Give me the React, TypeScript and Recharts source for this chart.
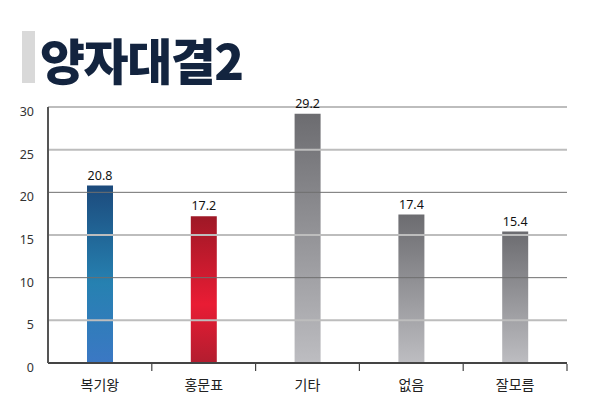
import { BarChart, Bar, XAxis, YAxis, Cell, LabelList, ReferenceLine } from "recharts";

const candidates = ["복기왕", "홍문표", "기타", "없음", "잘모름"];
const shares = [20.8, 17.2, 29.2, 17.4, 15.4];
const yTicks = [0, 5, 10, 15, 20, 25, 30];
const gridValues = [5, 10, 15, 20, 25, 30];
const title = "양자대결2";

const rows = candidates.map((name, i) => ({ name, value: shares[i] }));

// blue for the first candidate, red for the second, gray for the rest
const fillFor = (i: number) => (i === 0 ? "url(#gBlue)" : i === 1 ? "url(#gRed)" : "url(#gGray)");

function CategoryTick(props: any) {
  const { x, y, payload } = props;
  const half = payload.offset ?? 0;
  return (
    <g>
      <line x1={x + half} x2={x + half} y1={y - 7} y2={y} stroke="#444" strokeWidth={1.2} />
      <text x={x} y={y + 19} textAnchor="middle" fontSize={14} fill="#222" fontFamily="'Noto Sans CJK KR', sans-serif">
        {payload.value}
      </text>
    </g>
  );
}

function ValueTick(props: any) {
  const { x, y, payload } = props;
  return (
    <text x={x - 6} y={y + 9} textAnchor="end" fontSize={12.5} fill="#333" fontFamily="'Noto Sans', sans-serif">
      {payload.value}
    </text>
  );
}

export default function App() {
  return (
    <div style={{ position: "absolute", left: 0, top: 0, width: 595, height: 399, background: "#fff" }}>
      <div style={{ position: "absolute", left: 22, top: 31, width: 13, height: 52, background: "#d9d9d9" }} />
      <div
        style={{
          position: "absolute",
          left: 40,
          top: 23,
          fontFamily: "'Noto Sans CJK KR', sans-serif",
          fontWeight: 900,
          fontSize: 49,
          letterSpacing: -1.5,
          color: "#13243f",
          lineHeight: "72px",
        }}
      >
        {title}
      </div>
      <div style={{ position: "absolute", left: 0, top: 0 }}>
        <BarChart width={595} height={399} data={rows} margin={{ top: 107, right: 28, bottom: 6, left: 8 }} barCategoryGap={0}>
          <defs>
            <linearGradient id="gBlue" x1="0" y1="0" x2="0" y2="1">
              <stop offset="0%" stopColor="#1c4a7c" />
              <stop offset="55%" stopColor="#2681b1" />
              <stop offset="100%" stopColor="#3b78c4" />
            </linearGradient>
            <linearGradient id="gRed" x1="0" y1="0" x2="0" y2="1">
              <stop offset="0%" stopColor="#9e1826" />
              <stop offset="60%" stopColor="#e91c34" />
              <stop offset="100%" stopColor="#b21d2f" />
            </linearGradient>
            <linearGradient id="gGray" x1="0" y1="0" x2="0" y2="1">
              <stop offset="0%" stopColor="#6c6c70" />
              <stop offset="100%" stopColor="#bdbdc1" />
            </linearGradient>
          </defs>
          {gridValues.map((v) => (
            <ReferenceLine
              key={v}
              y={v}
              stroke={v % 10 === 5 || v === 30 ? "#bdbdbd" : "#6f6f6f"}
              strokeWidth={v % 10 === 5 || v === 30 ? 2 : 1}
            />
          ))}
          <XAxis
            dataKey="name"
            height={30}
            axisLine={{ stroke: "#444", strokeWidth: 2 }}
            tickLine={false}
            tick={<CategoryTick />}
            interval={0}
          />
          <YAxis
            width={40}
            domain={[0, 30]}
            ticks={yTicks}
            axisLine={{ stroke: "#555", strokeWidth: 2 }}
            tickLine={false}
            tick={<ValueTick />}
          />
          <Bar dataKey="value" barSize={26} isAnimationActive={false}>
            {rows.map((r, i) => (
              <Cell key={r.name} fill={fillFor(i)} />
            ))}
            <LabelList dataKey="value" position="top" offset={6} fontSize={12.5} fill="#111" fontFamily="'Noto Sans', sans-serif" formatter={(v: number) => v.toFixed(1)} />
          </Bar>
        </BarChart>
      </div>
    </div>
  );
}
